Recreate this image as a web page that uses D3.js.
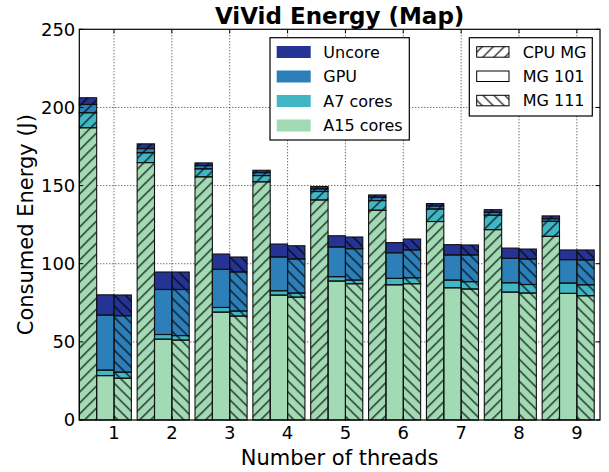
<!DOCTYPE html>
<html>
<head>
<meta charset="utf-8">
<script src="https://d3js.org/d3.v7.min.js"></script>
<style>
  body { margin: 0; background: #fff; }
  text { font-family: "DejaVu Sans", sans-serif; fill: #000; }
</style>
</head>
<body>
<div id="plot"></div>
<script>
// data
var threads = [1, 2, 3, 4, 5, 6, 7, 8, 9];
var parts = ["A15 cores", "A7 cores", "GPU", "Uncore"];
var versions = ["CPU MG", "MG 101", "MG 111"];

var a15_cpu    = [187, 164.7, 155.6, 152.4, 140.8, 134.2, 127, 121.8, 117.5];
var a7_cpu     = [9.6, 6.3, 5.1, 4, 5.4, 6.2, 8, 9.2, 9.6];
var gpu_cpu    = [5.3, 2.7, 2.1, 1.9, 1.7, 2.1, 2, 1.9, 1.7];
var uncore_cpu = [4.3, 3, 1.7, 1.5, 1.5, 1.5, 1.5, 1.7, 1.8];

var a15_101    = [28.4, 51.7, 69, 79.9, 88.9, 86.5, 84.6, 81.8, 81];
var a7_101     = [3.5, 3, 3, 2.8, 2.8, 4.1, 4.9, 6, 6.6];
var gpu_101    = [35.2, 28.8, 24.4, 21.6, 19, 16.4, 16.1, 15.6, 15];
var uncore_101 = [13, 11.2, 9.8, 8.3, 7.2, 6.5, 6.6, 6.6, 6.2];

var a15_111    = [26.7, 51.1, 66.5, 78.6, 87.2, 87.2, 83.8, 81.2, 79.5];
var a7_111     = [3.9, 2.9, 3.2, 2.6, 2.3, 3.8, 4.7, 5.5, 7];
var gpu_111    = [36.1, 29.5, 25, 21.8, 20.1, 17.8, 17.1, 16.3, 15.9];
var uncore_111 = [13.3, 11.2, 9.6, 8.5, 7.5, 7, 6.4, 6.4, 6.4];

var yTicks = [0, 50, 100, 150, 200, 250];

var series = {
    "CPU MG": [a15_cpu, a7_cpu, gpu_cpu, uncore_cpu],
    "MG 101": [a15_101, a7_101, gpu_101, uncore_101],
    "MG 111": [a15_111, a7_111, gpu_111, uncore_111]
};

// styles
var colors = {"A15 cores": "#a1dab4", "A7 cores": "#41b6c4", "GPU": "#2c7fb8", "Uncore": "#253494"};
var hatches = {"CPU MG": "url(#hatchFwd)", "MG 101": "none", "MG 111": "url(#hatchBack)"};
var barW = 0.3;
var offsets = {"CPU MG": -0.6, "MG 101": -0.3, "MG 111": 0};

// build the stacked segments
var segs = [];
versions.forEach(function(v) {
    threads.forEach(function(t, i) {
        var base = 0;
        parts.forEach(function(p, k) {
            var val = series[v][k][i];
            segs.push({version: v, part: p, x0: t + offsets[v], y0: base, y1: base + val});
            base += val;
        });
    });
});

var W = 609, H = 472;
var margin = {top: 29.3, left: 79.3, right: 9, bottom: 52};
var width = W - margin.left - margin.right,
    height = H - margin.top - margin.bottom;

var svg = d3.select("#plot")
  .append("svg")
    .attr("width", W)
    .attr("height", H);

// hatch patterns
var defs = svg.append("defs");
var hs = 11;
defs.append("pattern")
    .attr("id", "hatchFwd")
    .attr("patternUnits", "userSpaceOnUse")
    .attr("width", hs).attr("height", hs)
  .append("path")
    .attr("d", "M0," + hs + " L" + hs + ",0 M" + (-hs / 4) + "," + (hs / 4) + " L" + (hs / 4) + "," + (-hs / 4) +
               " M" + (hs * 0.75) + "," + (hs * 1.25) + " L" + (hs * 1.25) + "," + (hs * 0.75))
    .attr("stroke", "#000").attr("stroke-width", 1.2);
defs.append("pattern")
    .attr("id", "hatchBack")
    .attr("patternUnits", "userSpaceOnUse")
    .attr("width", hs).attr("height", hs)
  .append("path")
    .attr("d", "M0,0 L" + hs + "," + hs + " M" + (-hs / 4) + "," + (hs * 0.75) + " L" + (hs / 4) + "," + (hs * 1.25) +
               " M" + (hs * 0.75) + "," + (-hs / 4) + " L" + (hs * 1.25) + "," + (hs / 4))
    .attr("stroke", "#000").attr("stroke-width", 1.2);

var g = svg.append("g")
    .attr("transform", "translate(" + margin.left + "," + margin.top + ")");

var x = d3.scaleLinear()
    .domain([0.4, 9.4])
    .range([0, width]);

var y = d3.scaleLinear()
    .domain([0, 250])
    .range([height, 0]);

// grid lines
g.append("g")
    .selectAll("line.vg")
    .data(threads)
    .enter()
    .append("line")
      .attr("x1", function(d) { return x(d); })
      .attr("x2", function(d) { return x(d); })
      .attr("y1", 0).attr("y2", height)
      .attr("stroke", "#000").attr("stroke-width", 0.8)
      .attr("stroke-dasharray", "1,2");
g.append("g")
    .selectAll("line.hg")
    .data(yTicks.slice(1, -1))
    .enter()
    .append("line")
      .attr("x1", 0).attr("x2", width)
      .attr("y1", function(d) { return y(d); })
      .attr("y2", function(d) { return y(d); })
      .attr("stroke", "#000").attr("stroke-width", 0.8)
      .attr("stroke-dasharray", "1,2");

// bars
var bars = g.append("g");
bars.selectAll("rect.fill")
    .data(segs)
    .enter()
    .append("rect")
      .attr("x", function(d) { return x(d.x0); })
      .attr("y", function(d) { return y(d.y1); })
      .attr("width", x(barW) - x(0))
      .attr("height", function(d) { return y(d.y0) - y(d.y1); })
      .attr("fill", function(d) { return colors[d.part]; });
bars.selectAll("rect.hatch")
    .data(segs)
    .enter()
    .append("rect")
      .attr("x", function(d) { return x(d.x0); })
      .attr("y", function(d) { return y(d.y1); })
      .attr("width", x(barW) - x(0))
      .attr("height", function(d) { return y(d.y0) - y(d.y1); })
      .attr("fill", function(d) { return hatches[d.version]; })
      .attr("stroke", "#111")
      .attr("stroke-width", 1.1);

// frame
g.append("rect")
    .attr("width", width).attr("height", height)
    .attr("fill", "none").attr("stroke", "#000").attr("stroke-width", 1.2);

// ticks, pointing inward on all four sides
var tl = 4;
threads.forEach(function(t) {
    g.append("line").attr("x1", x(t)).attr("x2", x(t)).attr("y1", height).attr("y2", height - tl).attr("stroke", "#000");
    g.append("line").attr("x1", x(t)).attr("x2", x(t)).attr("y1", 0).attr("y2", tl).attr("stroke", "#000");
    g.append("text")
        .attr("x", x(t)).attr("y", height + 19.3)
        .attr("text-anchor", "middle")
        .style("font-size", "18px")
        .text(t);
});
yTicks.forEach(function(v) {
    g.append("line").attr("x1", 0).attr("x2", tl).attr("y1", y(v)).attr("y2", y(v)).attr("stroke", "#000");
    g.append("line").attr("x1", width).attr("x2", width - tl).attr("y1", y(v)).attr("y2", y(v)).attr("stroke", "#000");
    g.append("text")
        .attr("x", -4).attr("y", y(v))
        .attr("dy", "0.36em")
        .attr("text-anchor", "end")
        .style("font-size", "18px")
        .text(v);
});

// title and axis labels
svg.append("text")
    .attr("x", margin.left + width / 2).attr("y", 24)
    .attr("text-anchor", "middle")
    .style("font-size", "23px").style("font-weight", "bold")
    .text("ViVid Energy (Map)");
svg.append("text")
    .attr("x", margin.left + width / 2).attr("y", 465)
    .attr("text-anchor", "middle")
    .style("font-size", "21px")
    .text("Number of threads");
svg.append("text")
    .attr("transform", "translate(33," + (margin.top + height / 2) + ") rotate(-90)")
    .attr("text-anchor", "middle")
    .style("font-size", "21px")
    .text("Consumed Energy (J)");

// legend for the parts
var legParts = parts.slice().reverse();
var leg1 = svg.append("g").attr("transform", "translate(270,37.7)");
leg1.append("rect")
    .attr("width", 139.3).attr("height", 102.3)
    .attr("fill", "#fff").attr("stroke", "#000").attr("stroke-width", 1.2);
leg1.selectAll("rect.sw")
    .data(legParts)
    .enter()
    .append("rect")
      .attr("x", 6.7).attr("y", function(d, i) { return 8.3 + i * 24.5; })
      .attr("width", 34).attr("height", 12)
      .attr("fill", function(d) { return colors[d]; });
leg1.selectAll("text")
    .data(legParts)
    .enter()
    .append("text")
      .attr("x", 53.3).attr("y", function(d, i) { return 14.3 + i * 24.5; })
      .attr("dy", "0.36em")
      .style("font-size", "16px")
      .text(function(d) { return d; });

// legend for the versions
var leg2 = svg.append("g").attr("transform", "translate(469.3,37.7)");
leg2.append("rect")
    .attr("width", 123).attr("height", 78.3)
    .attr("fill", "#fff").attr("stroke", "#000").attr("stroke-width", 1.2);
leg2.selectAll("rect.sw")
    .data(versions)
    .enter()
    .append("rect")
      .attr("x", 7.4).attr("y", function(d, i) { return 9 + i * 24.3; })
      .attr("width", 32.3).attr("height", 10.5)
      .attr("fill", function(d) { return d === "MG 101" ? "#fff" : hatches[d]; })
      .attr("stroke", "#000").attr("stroke-width", 1);
leg2.selectAll("text")
    .data(versions)
    .enter()
    .append("text")
      .attr("x", 53.4).attr("y", function(d, i) { return 14.3 + i * 24.3; })
      .attr("dy", "0.36em")
      .style("font-size", "16px")
      .text(function(d) { return d; });
</script>
</body>
</html>
